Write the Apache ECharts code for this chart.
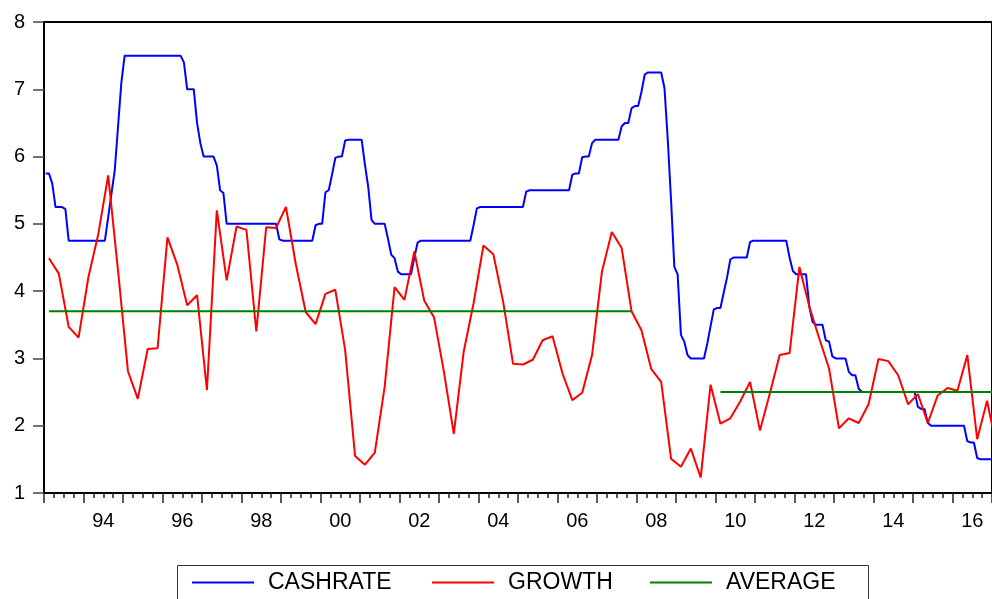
<!DOCTYPE html>
<html>
<head>
<meta charset="utf-8">
<script src="https://cdn.jsdelivr.net/npm/echarts@6/dist/echarts.min.js"></script>
<style>
  html, body { margin: 0; padding: 0; background: #fff; }
  #chart { width: 992px; height: 599px; }
</style>
</head>
<body>
<div id="chart"></div>
<script>
// Monthly series, starting January 1993 (one value per month)
const cashRate = [
  5.75,5.75,5.6,5.25,5.25,5.25,5.22,4.75,4.75,4.75,4.75,4.75,          // 1993
  4.75,4.75,4.75,4.75,4.75,4.75,4.75,5.1,5.45,5.8,6.45,7.1,            // 1994
  7.5,7.5,7.5,7.5,7.5,7.5,7.5,7.5,7.5,7.5,7.5,7.5,                     // 1995
  7.5,7.5,7.5,7.5,7.5,7.5,7.4,7.0,7.0,7.0,6.5,6.2,                     // 1996
  6.0,6.0,6.0,6.0,5.87,5.5,5.46,5.0,5.0,5.0,5.0,5.0,                   // 1997
  5.0,5.0,5.0,5.0,5.0,5.0,5.0,5.0,5.0,5.0,5.0,4.77,                    // 1998
  4.75,4.75,4.75,4.75,4.75,4.75,4.75,4.75,4.75,4.75,4.98,5.0,          // 1999
  5.0,5.47,5.5,5.73,5.98,6.0,6.0,6.24,6.25,6.25,6.25,6.25,             // 2000
  6.25,5.88,5.55,5.06,5.0,5.0,5.0,5.0,4.78,4.54,4.49,4.29,             // 2001
  4.25,4.25,4.25,4.25,4.5,4.72,4.75,4.75,4.75,4.75,4.75,4.75,          // 2002
  4.75,4.75,4.75,4.75,4.75,4.75,4.75,4.75,4.75,4.75,4.98,5.23,         // 2003
  5.25,5.25,5.25,5.25,5.25,5.25,5.25,5.25,5.25,5.25,5.25,5.25,         // 2004
  5.25,5.25,5.48,5.5,5.5,5.5,5.5,5.5,5.5,5.5,5.5,5.5,                  // 2005
  5.5,5.5,5.5,5.5,5.73,5.75,5.75,5.99,6.0,6.0,6.2,6.25,                // 2006
  6.25,6.25,6.25,6.25,6.25,6.25,6.25,6.45,6.5,6.5,6.72,6.75,           // 2007
  6.75,6.96,7.22,7.25,7.25,7.25,7.25,7.25,7.02,6.25,5.35,4.36,         // 2008
  4.25,3.35,3.25,3.05,3.0,3.0,3.0,3.0,3.0,3.22,3.48,3.73,              // 2009
  3.75,3.75,3.98,4.2,4.47,4.5,4.5,4.5,4.5,4.5,4.73,4.75,               // 2010
  4.75,4.75,4.75,4.75,4.75,4.75,4.75,4.75,4.75,4.75,4.5,4.3,           // 2011
  4.25,4.25,4.25,4.25,3.77,3.54,3.5,3.5,3.5,3.27,3.25,3.03,            // 2012
  3.0,3.0,3.0,3.0,2.8,2.75,2.75,2.55,2.5,2.5,2.5,2.5,                  // 2013
  2.5,2.5,2.5,2.5,2.5,2.5,2.5,2.5,2.5,2.5,2.5,2.5,                     // 2014
  2.5,2.28,2.25,2.25,2.04,2.0,2.0,2.0,2.0,2.0,2.0,2.0,                 // 2015
  2.0,2.0,2.0,2.0,1.77,1.75,1.75,1.52,1.5,1.5,1.5,1.5,                 // 2016
  1.5                                                                  // 2017
];

// Quarterly series, starting 1993Q1 (plotted at the middle month of each quarter)
const growth = [
  4.49,4.26,3.47,3.31,  4.21,4.85,5.72,4.30,  2.81,2.40,3.14,3.15,  4.80,4.39,3.79,3.94,
  2.53,5.20,4.16,4.96,  4.91,3.40,4.95,4.94,  5.25,4.40,3.69,3.51,  3.96,4.02,3.12,1.55,
  1.42,1.60,2.58,4.06,  3.87,4.59,3.86,3.61,  2.80,1.88,3.10,3.82,  4.68,4.55,3.84,2.92,
  2.91,2.98,3.27,3.33,  2.78,2.38,2.49,3.05,  4.29,4.88,4.64,3.70,  3.42,2.84,2.65,1.51,
  1.39,1.66,1.23,2.61,  2.03,2.11,2.36,2.65,  1.93,2.48,3.05,3.08,  4.36,3.77,3.30,2.85,
  1.96,2.11,2.04,2.32,  2.99,2.96,2.75,2.32,  2.47,2.04,2.45,2.56,  2.52,3.05,1.80,2.37,
  1.65
];

const average = [
  3.70,3.70,3.70,3.70, 3.70,3.70,3.70,3.70, 3.70,3.70,3.70,3.70, 3.70,3.70,3.70,3.70,
  3.70,3.70,3.70,3.70, 3.70,3.70,3.70,3.70, 3.70,3.70,3.70,3.70, 3.70,3.70,3.70,3.70,
  3.70,3.70,3.70,3.70, 3.70,3.70,3.70,3.70, 3.70,3.70,3.70,3.70, 3.70,3.70,3.70,3.70,
  3.70,3.70,3.70,3.70, 3.70,3.70,3.70,3.70, 3.70,3.70,3.70,3.70, null,null,null,null,
  null,null,null,null, 2.50,2.50,2.50,2.50, 2.50,2.50,2.50,2.50, 2.50,2.50,2.50,2.50,
  2.50,2.50,2.50,2.50, 2.50,2.50,2.50,2.50, 2.50,2.50,2.50,2.50, 2.50,2.50,2.50,2.50,
  2.50
];

const labelYears = [1994,1996,1998,2000,2002,2004,2006,2008,2010,2012,2014,2016];
const tickLabels = ['94','96','98','00','02','04','06','08','10','12','14','16'];
const seriesNames = ['CASHRATE','GROWTH','AVERAGE'];
const seriesColors = ['#0000ff','#ff0000','#008000'];

const START_YEAR = 1993;
const monthToX = m => START_YEAR + (m + 0.5) / 12;
const quarterToX = q => monthToX(3 * q + 1);

const cashData = cashRate.map((v, i) => [monthToX(i), v]);
const growthData = growth.map((v, i) => [quarterToX(i), v]);
const avgData = average.map((v, i) => [quarterToX(i), v]);

const FONT = '"Liberation Sans", Arial, sans-serif';

// legend item left edges (one legend per entry so their spacing matches)
const legendLefts = [192, 432, 650];
const legends = seriesNames.map((name, i) => ({
  left: legendLefts[i], top: 571,
  orient: 'horizontal',
  data: [name],
  icon: 'rect',
  itemWidth: 62, itemHeight: 2,
  padding: 0,
  textStyle: { fontFamily: FONT, fontSize: 23, color: '#000', padding: [0, 0, 0, 9] },
  selectedMode: false
}));

const chart = echarts.init(document.getElementById('chart'), null, { renderer: 'canvas' });
chart.setOption({
  animation: false,
  backgroundColor: '#ffffff',
  grid: {
    left: 44, right: -2, top: 22, bottom: 106,
    show: true, borderColor: '#000', borderWidth: 2, backgroundColor: 'transparent'
  },
  graphic: [{
    type: 'rect', z: -1, silent: true,
    shape: { x: 177.5, y: 565.5, width: 691, height: 45 },
    style: { fill: '#fff', stroke: '#333', lineWidth: 1 }
  }],
  xAxis: [
    {
      type: 'value', min: 1993, max: 2017, interval: 1,
      axisLine: { show: true, onZero: false, lineStyle: { color: '#000', width: 2 } },
      axisTick: { show: true, inside: false, length: 10, lineStyle: { color: '#222', width: 1.5 } },
      minorTick: { show: true, splitNumber: 4, length: 5, lineStyle: { color: '#222', width: 1.5 } },
      axisLabel: { show: false },
      splitLine: { show: false }
    },
    {
      type: 'value', min: 1993, max: 2017, position: 'bottom',
      axisLine: { show: false },
      axisTick: { show: false },
      splitLine: { show: false },
      axisLabel: {
        show: true,
        customValues: labelYears.map(y => y + 0.5),
        formatter: v => tickLabels[labelYears.indexOf(Math.round(v - 0.5))] || '',
        fontFamily: FONT, fontSize: 20, color: '#000', margin: 18
      }
    }
  ],
  yAxis: {
    type: 'value', min: 1, max: 8, interval: 1,
    axisLine: { show: true, onZero: false, lineStyle: { color: '#000', width: 2 } },
    axisTick: { show: true, inside: false, length: 11, lineStyle: { color: '#444', width: 1.5 } },
    axisLabel: { fontFamily: FONT, fontSize: 20, color: '#000', margin: 19 },
    splitLine: { show: false }
  },
  legend: legends,
  series: [
    {
      name: seriesNames[0], type: 'line', data: cashData, xAxisIndex: 0,
      showSymbol: false, symbol: 'none', color: seriesColors[0],
      lineStyle: { color: seriesColors[0], width: 2 }, clip: true
    },
    {
      name: seriesNames[1], type: 'line', data: growthData, xAxisIndex: 0,
      showSymbol: false, symbol: 'none', color: seriesColors[1],
      lineStyle: { color: seriesColors[1], width: 2 }, clip: true
    },
    {
      name: seriesNames[2], type: 'line', data: avgData, xAxisIndex: 0,
      showSymbol: false, symbol: 'none', color: seriesColors[2], connectNulls: false,
      lineStyle: { color: seriesColors[2], width: 2 }, clip: true
    }
  ]
});
</script>
</body>
</html>
